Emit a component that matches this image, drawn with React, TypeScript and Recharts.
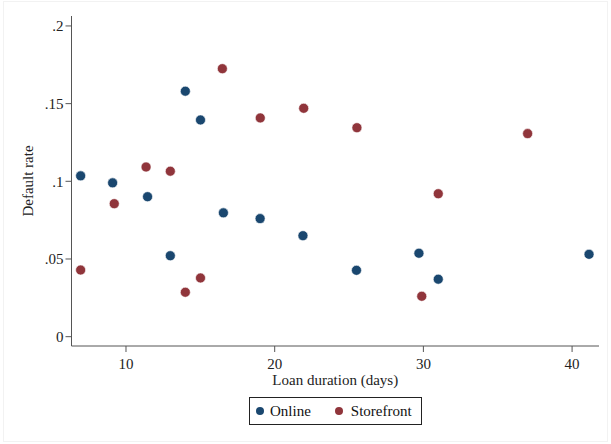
import { ScatterChart, Scatter, XAxis, YAxis } from "recharts"

const durations = [6.95, 9.1, 11.45, 12.98, 13.99, 15.01, 16.55, 19.02, 21.9, 25.5, 29.7, 31.0, 41.14]
const onlineRates = [0.1035, 0.099, 0.0901, 0.0521, 0.158, 0.1395, 0.0797, 0.076, 0.065, 0.0427, 0.0537, 0.037, 0.053]

const storeDurations = [6.95, 9.21, 11.35, 12.98, 13.99, 15.01, 16.48, 19.03, 21.95, 25.53, 29.89, 31.0, 37.01]
const storeRates = [0.0429, 0.0856, 0.1092, 0.1065, 0.0286, 0.0378, 0.1725, 0.1408, 0.147, 0.1345, 0.026, 0.092, 0.1307]

const xTicks = [10, 20, 30, 40]
const yTicks = [0, 0.05, 0.1, 0.15, 0.2]
const yTickLabels = ["0", ".05", ".1", ".15", ".2"]

const NAVY = "#1a476f"
const MAROON = "#90353b"
const FONT = "'Liberation Serif', 'DejaVu Serif', serif"

const online = durations.map((d, i) => ({ x: d, y: onlineRates[i] }))
const storefront = storeDurations.map((d, i) => ({ x: d, y: storeRates[i] }))

const dot = (color: string) => (props: any) => {
  const { cx, cy } = props
  return <circle cx={cx} cy={cy} r={5} fill={color} stroke="#ffffff" strokeWidth={0.6} />
}

export default function App() {
  return (
    <div style={{ position: "absolute", left: 0, top: 0, width: 611, height: 444, background: "#fff" }}>
      <div
        style={{
          position: "absolute",
          left: 3,
          top: 1,
          width: 605,
          height: 441,
          border: "1px solid #f2f2f2",
          boxSizing: "border-box",
        }}
      />
      <ScatterChart width={611} height={444} margin={{ top: 16, right: 12, bottom: 0, left: 0 }}>
        <XAxis
          type="number"
          dataKey="x"
          domain={[6.335, 41.81]}
          ticks={xTicks}
          allowDataOverflow
          height={98}
          stroke="#555"
          tickSize={6}
          tick={{ fontSize: 15, fill: "#222", fontFamily: FONT, dy: 4 }}
          label={{
            value: "Loan duration (days)",
            position: "insideTop",
            offset: 28,
            style: { fontSize: 15, fill: "#222", fontFamily: FONT },
          }}
        />
        <YAxis
          type="number"
          dataKey="y"
          domain={[-0.006, 0.2064]}
          ticks={yTicks}
          allowDataOverflow
          width={71.5}
          stroke="#555"
          tickSize={6}
          tickFormatter={(v: number) => yTickLabels[yTicks.indexOf(v)] ?? String(v)}
          tick={{ fontSize: 15, fill: "#222", fontFamily: FONT }}
          label={{
            value: "Default rate",
            angle: -90,
            position: "insideLeft",
            offset: 28,
            style: { fontSize: 15, fill: "#222", fontFamily: FONT, textAnchor: "middle" },
          }}
        />
        <Scatter name="Online" data={online} fill={NAVY} shape={dot(NAVY)} isAnimationActive={false} />
        <Scatter name="Storefront" data={storefront} fill={MAROON} shape={dot(MAROON)} isAnimationActive={false} />
      </ScatterChart>
      <div
        style={{
          position: "absolute",
          left: 249,
          top: 397,
          display: "flex",
          alignItems: "center",
          border: "1px solid #222",
          height: 28,
          width: 173,
          boxSizing: "border-box",
          fontFamily: FONT,
          fontSize: 15,
          color: "#111",
          background: "#fff",
        }}
      >
        <span style={{ width: 8, height: 8, borderRadius: 4, background: NAVY, marginLeft: 6 }} />
        <span style={{ marginLeft: 6 }}>Online</span>
        <span style={{ width: 8, height: 8, borderRadius: 4, background: MAROON, marginLeft: 24 }} />
        <span style={{ marginLeft: 8 }}>Storefront</span>
      </div>
    </div>
  )
}
